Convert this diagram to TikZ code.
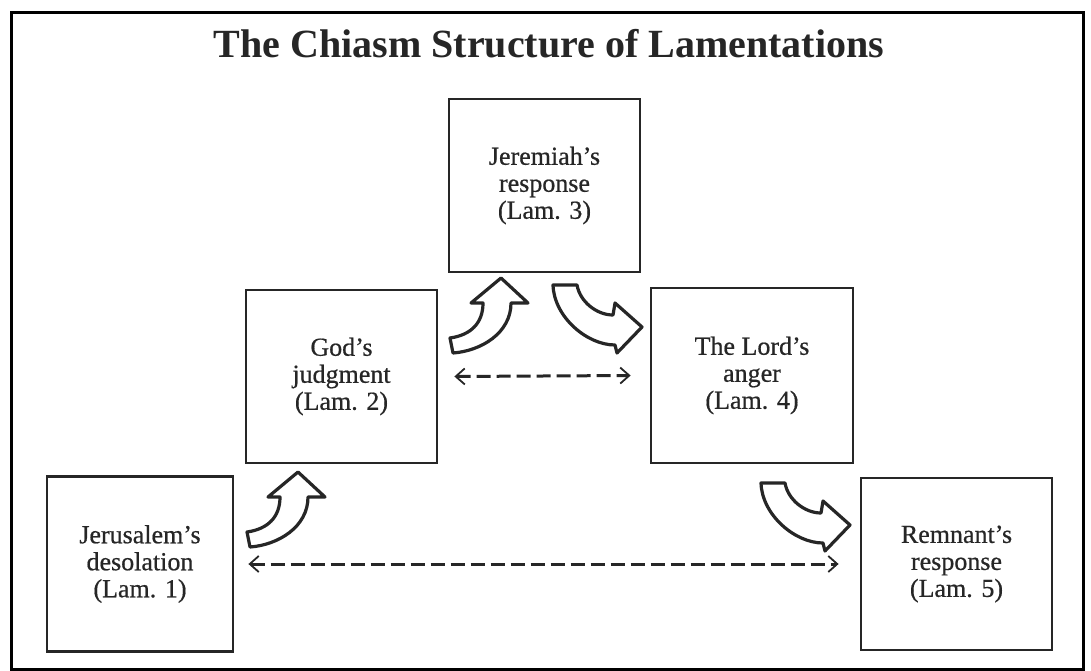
\documentclass[tikz,border=0pt]{standalone}
\usepackage{fontspec}
\setmainfont{Liberation Serif}
\newfontfamily\titlefont[Ligatures=TeX]{Liberation Serif}
\newfontfamily\boxfont[Ligatures=TeX,FakeBold=0.6]{Liberation Serif}
\usetikzlibrary{arrows.meta}
\definecolor{ink}{HTML}{262626}
\tikzset{
  box/.style={draw=ink, line width=2.8pt, minimum width=190pt, minimum height=174pt,
    inner sep=0pt, align=center, font=\boxfont\fontsize{26}{27}\selectfont, text=ink},
  bent/.style={draw=ink, line width=3.2pt, fill=white, line join=round},
  dashlink/.style={draw=ink, line width=3pt, dash pattern=on 14pt off 6pt,
    {Straight Barb[length=9pt,width=16pt,line width=1.8pt]}-{Straight Barb[length=9pt,width=16pt,line width=1.8pt]}},
  upbent/.pic={\draw[bent] (0,0) -- (27,25) -- (10,25) .. controls (10,55) and (-20,73) .. (-48,75)
     -- (-51,60) .. controls (-30,57) and (-18,45) .. (-18,25) -- (-30,25) -- cycle;},
  rightbent/.pic={\draw[bent] (0,0) -- (-27,-24) -- (-29,-12) .. controls (-45,-12) and (-62,-25) .. (-65,-42)
     -- (-89,-42) .. controls (-88,-10) and (-55,18) .. (-27,18) -- (-25,26) -- cycle;}
}
\begin{document}
\begin{tikzpicture}[x=1pt,y=-1pt]
\useasboundingbox (0,0) rectangle (1091,671);
\fill[white] (0,0) rectangle (1091,671);
\draw[line width=3pt] (11,13) rectangle (1083,669);

\node[font=\titlefont\bfseries\fontsize{40}{44}\selectfont, text=ink, anchor=base] (title) at (549,58) {The Chiasm Structure of Lamentations};

\node[box, minimum width=186pt, minimum height=175pt] (b1) at (140,564) {Jerusalem’s\\desolation\\(Lam. 1)};
\node[box, minimum width=191pt, minimum height=173pt] (b2) at (341.5,376.5) {God’s\\judgment\\(Lam. 2)};
\node[box, minimum width=191pt, minimum height=173pt] (b3) at (544.5,185.5) {Jeremiah’s\\response\\(Lam. 3)};
\node[box, minimum width=202pt, minimum height=175pt] (b4) at (752,375.5) {The Lord’s\\anger\\(Lam. 4)};
\node[box, minimum width=191pt, minimum height=172pt] (b5) at (956.5,564) {Remnant’s\\response\\(Lam. 5)};

\coordinate (a1) at (298,472);
\coordinate (a2) at (501,278);
\coordinate (a3) at (642,327);
\coordinate (a4) at (850,525);
\pic at (a1) {upbent};
\pic at (a2) {upbent};
\pic at (a3) {rightbent};
\pic at (a4) {rightbent};

\draw[dashlink] ([xshift=16pt]b2.east) -- ([xshift=-19pt]b4.west);
\draw[dashlink] ([xshift=14pt]b1.east) -- ([xshift=-21pt]b5.west);
\end{tikzpicture}
\end{document}
